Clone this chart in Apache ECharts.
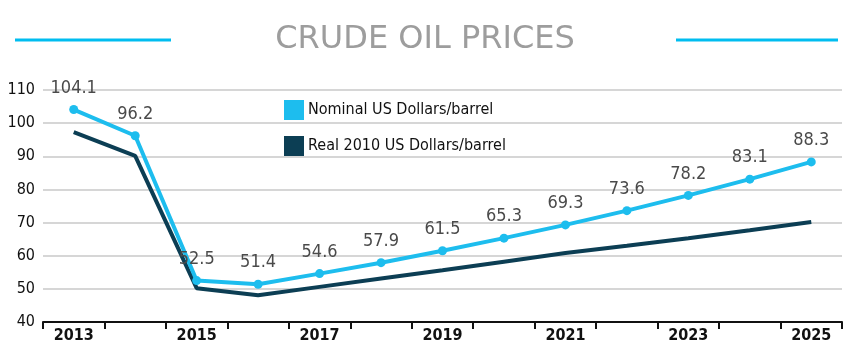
<!DOCTYPE html>
<html>
<head>
<meta charset="utf-8">
<script src="https://cdn.jsdelivr.net/npm/echarts@6/dist/echarts.min.js"></script>
<style>
html,body{margin:0;padding:0;background:#fff;}
#chart{width:850px;height:356px;}
</style>
</head>
<body>
<div id="chart"></div>
<script>
var years = ['2013','2014','2015','2016','2017','2018','2019','2020','2021','2022','2023','2024','2025'];
var nominal = [104.1, 96.2, 52.5, 51.4, 54.6, 57.9, 61.5, 65.3, 69.3, 73.6, 78.2, 83.1, 88.3];
var real2010 = [97.3, 90.1, 50.2, 48.1, 50.6, 53.1, 55.6, 58.2, 60.8, 63.0, 65.3, 67.7, 70.2];
var yTicks = [40, 50, 60, 70, 80, 90, 100, 110];
var titleText = 'CRUDE OIL PRICES';
var seriesNames = ['Nominal US Dollars/barrel', 'Real 2010 US Dollars/barrel'];

var NARROW = '"DejaVu Sans Condensed", sans-serif';
var CYAN = '#1dbdee';
var DARK = '#0c3e54';

var chart = echarts.init(document.getElementById('chart'), null, {renderer: 'canvas'});
chart.setOption({
  animation: false,
  backgroundColor: '#ffffff',
  graphic: [
    {type: 'text', left: 'center', top: 24, style: {text: titleText, fill: '#9d9d9d', font: '32px "DejaVu Sans", sans-serif'}},
    {type: 'line', shape: {x1: 15, y1: 40, x2: 171, y2: 40}, style: {stroke: '#00bdf0', lineWidth: 3}},
    {type: 'line', shape: {x1: 676, y1: 40, x2: 838, y2: 40}, style: {stroke: '#00bdf0', lineWidth: 3}}
  ],
  legend: {
    orient: 'vertical',
    left: 279,
    top: 95,
    itemWidth: 20,
    itemHeight: 20,
    itemGap: 16,
    icon: 'rect',
    textStyle: {fontFamily: NARROW, fontSize: 16, color: '#111', padding: [0, 0, 0, -1]},
    data: seriesNames
  },
  grid: {left: 43, right: 8, top: 90, bottom: 34, containLabel: false},
  xAxis: {
    type: 'category',
    data: years,
    boundaryGap: true,
    axisLine: {lineStyle: {color: '#111', width: 2}},
    axisTick: {show: true, interval: 0, length: 7, lineStyle: {color: '#111', width: 2}},
    axisLabel: {interval: 1, margin: 6, fontFamily: NARROW, fontSize: 16, fontWeight: 'bold', color: '#111'},
    splitLine: {show: false}
  },
  yAxis: {
    type: 'value',
    min: yTicks[0],
    max: yTicks[yTicks.length - 1],
    interval: 10,
    axisLine: {show: false},
    axisTick: {show: false},
    axisLabel: {margin: 8, fontFamily: NARROW, fontSize: 16, color: '#111'},
    splitLine: {lineStyle: {color: '#c8c8c8', width: 1.5}}
  },
  series: [
    {
      name: seriesNames[1],
      type: 'line',
      data: real2010,
      showSymbol: false,
      symbol: 'none',
      lineStyle: {color: DARK, width: 4},
      itemStyle: {color: DARK},
      z: 2
    },
    {
      name: seriesNames[0],
      type: 'line',
      data: nominal,
      symbol: 'circle',
      symbolSize: 9,
      lineStyle: {color: CYAN, width: 4},
      itemStyle: {color: CYAN},
      label: {show: true, position: 'top', distance: 8, fontFamily: NARROW, fontSize: 18, color: '#4a4a4a'},
      z: 3
    }
  ]
});
</script>
</body>
</html>
